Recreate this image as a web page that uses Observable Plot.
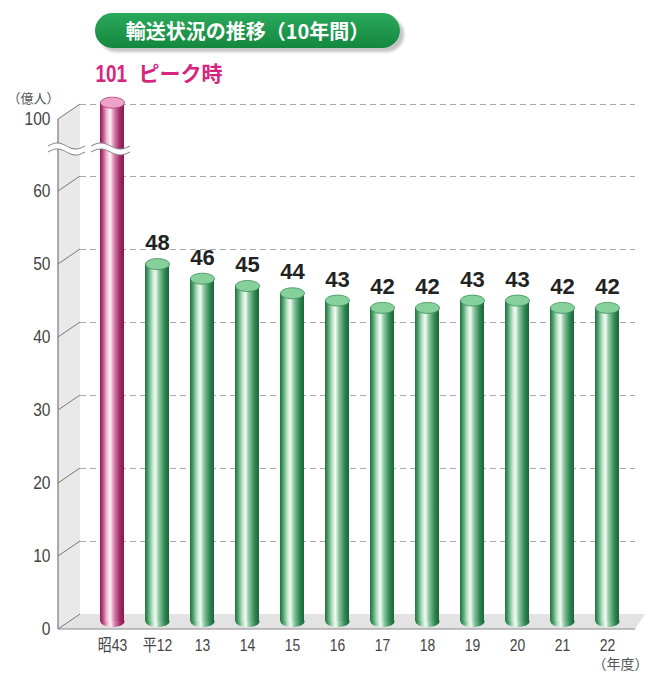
<!DOCTYPE html>
<html><head><meta charset="utf-8">
<script src="https://cdn.jsdelivr.net/npm/d3@7"></script>
<script src="https://cdn.jsdelivr.net/npm/@observablehq/plot@0.6"></script>
<style>
body{margin:0;background:#fff;}
#wrap{position:relative;width:649px;height:675px;overflow:hidden;background:#fff;}
#title{position:absolute;left:95px;top:13px;width:305px;height:35px;border-radius:18px;background:linear-gradient(#2aa95b,#14873f);box-shadow:4px 4px 3px #c4c4c4;color:#fff;font-family:"Noto Sans CJK JP",sans-serif;font-weight:700;font-size:20px;display:flex;align-items:center;justify-content:center;letter-spacing:0px;z-index:2}
#chart{position:absolute;left:0;top:0}
</style></head>
<body>
<div id="wrap"><div id="title"></div><div id="chart"></div></div>
<script>
// ---- data ----
const titleText = "輸送状況の推移（10年間）";
const years = ["昭43","平12","13","14","15","16","17","18","19","20","21","22"];
const riders = [101,48,46,45,44,43,42,42,43,43,42,42];
const peakLabel = "ピーク時";
const yTicks = [0,10,20,30,40,50,60,100];
const yUnit = "（億人）";
const xUnit = "（年度）";
const breakAt = 75;

document.getElementById("title").textContent = titleText;

const data = years.map((y, i) => ({year: y, value: riders[i], peak: i === 0}));

const condFont = '"Liberation Sans","Arial Narrow","Noto Sans CJK JP",sans-serif';
const boldFont = '"Liberation Sans",Arial,"Noto Sans CJK JP",sans-serif';
const cjkFont = '"Noto Sans CJK JP",sans-serif';
const depthX = 22, depthY = 15;

function defs() {
  const svg = d3.create("svg:defs");
  const mk = (id, stops) => {
    const g = svg.append("linearGradient").attr("id", id).attr("x1", "0%").attr("x2", "100%").attr("y1", "0%").attr("y2", "0%");
    stops.forEach(([o, c]) => g.append("stop").attr("offset", o).attr("stop-color", c));
  };
  mk("gGreen", [["0%","#23703f"],["10%","#3f9660"],["30%","#b9e2c6"],["43%","#f4fbf6"],["58%","#8cc8a0"],["82%","#2f8753"],["100%","#1c6438"]]);
  mk("gPink", [["0%","#8a1a50"],["10%","#b83f78"],["30%","#f0c2d8"],["43%","#fdf1f7"],["58%","#d888b1"],["82%","#a52b67"],["100%","#861a4f"]]);
  return svg.node();
}

function walls(index, {x, y}, values, {width, marginLeft, marginRight}) {
  const g = d3.create("svg:g");
  const bx = marginLeft, fx = marginLeft - depthX;
  const y0 = y(0), yt = y(yTicks[yTicks.length - 1]);
  const right = width - marginRight;
  g.append("path").attr("d", `M${fx},${yt + depthY}L${bx},${yt}L${bx},${y0}L${fx},${y0 + depthY}Z`).attr("fill", "#e9e9e9");
  g.append("path").attr("d", `M${fx},${y0 + depthY}L${bx},${y0}L${right + 10},${y0}L${right},${y0 + depthY}Z`).attr("fill", "#e3e3e3");
  yTicks.forEach(t => {
    g.append("line").attr("x1", fx).attr("y1", y(t) + depthY).attr("x2", bx).attr("y2", y(t)).attr("stroke", "#777").attr("stroke-width", 1);
  });
  g.append("line").attr("x1", fx).attr("y1", yt + depthY).attr("x2", fx).attr("y2", y0 + depthY).attr("stroke", "#777").attr("stroke-width", 1.2);
  g.append("line").attr("x1", fx).attr("y1", y0 + depthY).attr("x2", right).attr("y2", y0 + depthY).attr("stroke", "#8a8a8a").attr("stroke-width", 1.2);
  return g.node();
}

function breakMark(index, {x, y}, values, {marginLeft}) {
  const g = d3.create("svg:g");
  const yc = y(breakAt);
  const bw = x.bandwidth ? x.bandwidth() : 24;
  const x0 = x(years[0]);
  const segs = [[marginLeft - depthX - 10, marginLeft + 5], [x0 - 9, x0 + bw + 6]];
  segs.forEach(([a, b]) => {
    const pts = d3.range(0, 41).map(i => {
      const t = i / 40;
      return [a + (b - a) * t, yc - 3 * Math.sin(t * 2 * Math.PI)];
    });
    const line = d3.line();
    g.append("path").attr("d", line(pts)).attr("fill", "none").attr("stroke", "#fff").attr("stroke-width", 6);
    [-3, 3].forEach(o => {
      g.append("path").attr("d", line(pts.map(([px, py]) => [px, py + o]))).attr("fill", "none").attr("stroke", "#777").attr("stroke-width", 1);
    });
  });
  return g.node();
}

const ellipse = {
  draw(ctx) {
    const rx = 12, ry = 5.5, k = 0.5523;
    ctx.moveTo(rx, 0);
    ctx.bezierCurveTo(rx, ry * k, rx * k, ry, 0, ry);
    ctx.bezierCurveTo(-rx * k, ry, -rx, ry * k, -rx, 0);
    ctx.bezierCurveTo(-rx, -ry * k, -rx * k, -ry, 0, -ry);
    ctx.bezierCurveTo(rx * k, -ry, rx, -ry * k, rx, 0);
    ctx.closePath();
  }
};

const chart = Plot.plot({
  width: 649,
  height: 675,
  marginLeft: 80,
  marginRight: 14,
  marginTop: 0,
  marginBottom: 0,
  style: {background: "transparent", overflow: "visible"},
  x: {type: "band", domain: years, range: [100, 619], paddingInner: 0.47, paddingOuter: 0, axis: null},
  y: {type: "linear", domain: [0, 60, 100], range: [614, 176, 104], axis: null},
  marks: [
    defs,
    walls,
    Plot.ruleY(yTicks.filter(t => t > 0), {stroke: "#a8a8a8", strokeWidth: 1, strokeDasharray: "6,4"}),
    // bottom caps
    Plot.dot(data, {filter: d => !d.peak, x: "year", y: 0, dy: 7, symbol: ellipse, fill: "url(#gGreen)", stroke: "none"}),
    Plot.dot(data, {filter: d => d.peak, x: "year", y: 0, dy: 7, symbol: ellipse, fill: "url(#gPink)", stroke: "none"}),
    // bodies
    Plot.barY(data, {filter: d => !d.peak, x: "year", y: "value", insetBottom: -7, fill: "url(#gGreen)"}),
    Plot.barY(data, {filter: d => d.peak, x: "year", y: "value", insetBottom: -7, fill: "url(#gPink)"}),
    // top caps
    Plot.dot(data, {filter: d => !d.peak, x: "year", y: "value", symbol: ellipse, fill: "#86d19b", stroke: "#3d8d58", strokeWidth: 0.8}),
    Plot.dot(data, {filter: d => d.peak, x: "year", y: "value", symbol: ellipse, fill: "#eda2c7", stroke: "#b23a72", strokeWidth: 0.8}),
    breakMark,
    // value labels
    Plot.text(data, {filter: d => !d.peak, x: "year", y: "value", text: d => String(d.value), dy: -21, fontSize: 22, fontWeight: "bold", fill: "#222", fontFamily: boldFont}),
    Plot.text(data, {filter: d => d.peak, x: "year", y: "value", text: d => String(d.value), dx: -17, dy: -28, textAnchor: "start", fontSize: 23, fontWeight: "bold", fill: "#d4267e", fontFamily: condFont}),
    Plot.text(data, {filter: d => d.peak, x: "year", y: "value", text: () => peakLabel, dx: 26, dy: -28, textAnchor: "start", fontSize: 21, fontWeight: "bold", fill: "#d4267e", fontFamily: cjkFont}),
    // y tick labels
    Plot.text(yTicks, {y: d => d, frameAnchor: "left", dx: -30, dy: 14, textAnchor: "end", text: d => String(d), fontSize: 19, fill: "#444", fontFamily: condFont}),
    Plot.text([yUnit], {y: 100, frameAnchor: "left", dx: -47, dy: -6, text: d => d, textAnchor: "middle", fontSize: 13, fill: "#555", fontFamily: cjkFont}),
    // x labels
    Plot.text(years, {x: d => d, y: 0, dy: 31, text: d => d, fontSize: 17, fill: "#444", fontFamily: condFont}),
    Plot.text([xUnit], {x: () => years[years.length - 1], y: 0, dy: 50, dx: 13, text: d => d, fontSize: 14, fill: "#555", fontFamily: cjkFont})
  ]
});
document.getElementById("chart").appendChild(chart);

// condensed look for the narrow numeric labels
d3.select(chart).selectAll("g[font-family*='Arial Narrow'] text").each(function() {
  const t = this.getAttribute("transform");
  if (t) this.setAttribute("transform", t + " scale(0.82,1)");
});
</script>
</body></html>
